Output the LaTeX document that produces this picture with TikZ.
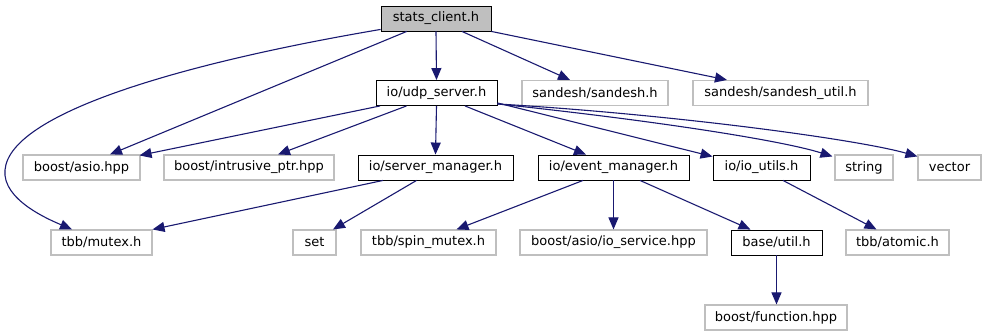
\documentclass[tikz,border=0pt]{standalone}
\usepackage{fontspec}
\setmainfont{DejaVu Sans}
\usetikzlibrary{arrows.meta}
\definecolor{edgeblue}{HTML}{191970}
\definecolor{extgray}{HTML}{BFBFBF}
\begin{document}
\begin{tikzpicture}[x=1pt,y=-1pt,
  hdr/.style={draw=black, line width=0.9pt, minimum height=25pt, inner sep=0pt,
              font=\fontsize{13}{15}\selectfont},
  root/.style={hdr, fill=extgray},
  ext/.style={hdr, draw=extgray, line width=1.1pt},
  dep/.style={draw=edgeblue, line width=1.1pt,
              -{Triangle[length=12pt,width=10pt,fill=edgeblue]}}]
\useasboundingbox (0,0) rectangle (986,336);

% row 0
\node[root, minimum width=110pt] (stats) at (436,18.5) {stats\_client.h};
% row 1
\node[hdr, minimum width=121pt] (udp) at (436.5,93) {io/udp\_server.h};
\node[ext, minimum width=146pt] (sandesh) at (595,93) {sandesh/sandesh.h};
\node[ext, minimum width=175pt] (sutil) at (780.5,93) {sandesh/sandesh\_util.h};
% row 2
\node[ext, minimum width=117pt] (asio) at (81.5,167.5) {boost/asio.hpp};
\node[ext, minimum width=170pt] (iptr) at (249,167.5) {boost/intrusive\_ptr.hpp};
\node[hdr, minimum width=155pt] (smgr) at (435.5,167.5) {io/server\_manager.h};
\node[hdr, minimum width=151pt] (emgr) at (613.5,167.5) {io/event\_manager.h};
\node[hdr, minimum width=97pt] (ioutils) at (761.5,167.5) {io/io\_utils.h};
\node[ext, minimum width=58pt] (string) at (864,167.5) {string};
\node[ext, minimum width=63pt] (vector) at (949.5,167.5) {vector};
% row 3
\node[ext, minimum width=101pt] (mutex) at (101.5,242.5) {tbb/mutex.h};
\node[ext, minimum width=43pt] (set) at (314.5,242.5) {set};
\node[ext, minimum width=135pt] (spin) at (428.5,242.5) {tbb/spin\_mutex.h};
\node[ext, minimum width=187pt] (iosvc) at (613.5,242.5) {boost/asio/io\_service.hpp};
\node[hdr, minimum width=91pt] (util) at (776.5,242.5) {base/util.h};
\node[ext, minimum width=103pt] (atomic) at (897.5,242.5) {tbb/atomic.h};
% row 4
\node[ext, minimum width=142pt] (func) at (776,317.5) {boost/function.hpp};

% includes of stats_client.h
\draw[dep] (stats.south) -- (udp.north);
\draw[dep] ([xshift=26pt]stats.south) -- ([xshift=-25pt]sandesh.north);
\draw[dep] (stats.south east) -- ([xshift=-53.5pt]sutil.north);
\draw[dep] ([xshift=-29.3pt]stats.south) -- ([xshift=28.5pt]asio.north);
\draw[dep] ([yshift=2pt]stats.south west)
  .. controls (200,60) and (10,110) .. (5,170)
  .. controls (2,200) and (50,220) .. ([xshift=-29.5pt]mutex.north);

% includes of io/udp_server.h
\draw[dep] ([xshift=-56.5pt]udp.south) -- ([xshift=-1pt,yshift=-1pt]asio.north east);
\draw[dep] ([xshift=-30pt]udp.south) -- ([xshift=29pt]iptr.north);
\draw[dep] (udp.south) -- (smgr.north);
\draw[dep] ([xshift=28.5pt]udp.south) -- ([xshift=-27.5pt]emgr.north);
\draw[dep] ([yshift=3pt]udp.south east) -- ([yshift=-2pt]ioutils.north west);
\draw[dep] ([yshift=2pt]udp.south east)
  .. controls (650,120) and (780,140) .. ([xshift=-2pt,yshift=-2pt]string.north west);
\draw[dep] ([yshift=2pt]udp.south east)
  .. controls (680,115) and (860,140) .. ([yshift=-2pt]vector.north west);

% includes of io/server_manager.h
\draw[dep] ([xshift=-52.5pt]smgr.south) -- (mutex.north east);
\draw[dep] ([xshift=-19pt]smgr.south) -- ([xshift=18.5pt]set.north);

% includes of io/event_manager.h
\draw[dep] ([xshift=-30.5pt]emgr.south) -- ([xshift=28pt]spin.north);
\draw[dep] (emgr.south) -- (iosvc.north);
\draw[dep] ([xshift=26.5pt]emgr.south) -- ([xshift=-26pt]util.north);

% includes of io/io_utils.h and base/util.h
\draw[dep] ([xshift=21.5pt]ioutils.south) -- ([xshift=-21pt]atomic.north);
\draw[dep] (util.south) -- ([xshift=0.5pt]func.north);
\end{tikzpicture}
\end{document}
